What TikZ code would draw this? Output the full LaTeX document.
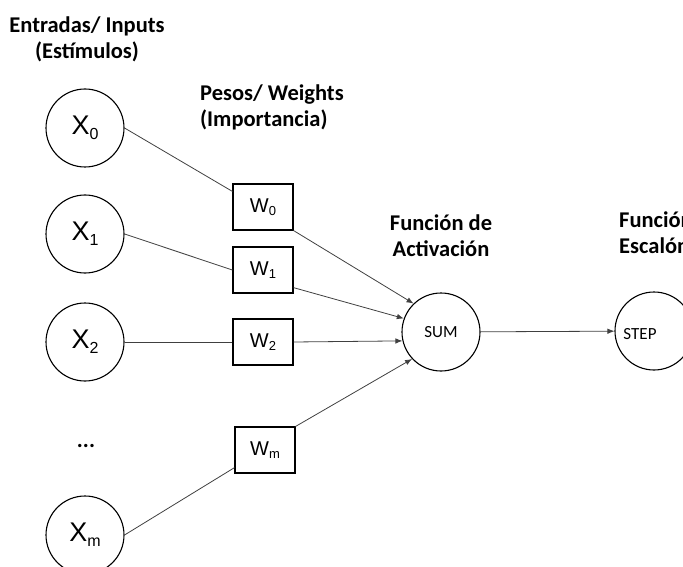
\documentclass[tikz,border=0pt]{standalone}
\usepackage{fontspec}
\usepackage{tikz}
\usetikzlibrary{arrows.meta}

\newfontfamily\calibfont{Carlito}
\newfontfamily\arialfont{Liberation Sans}

\newcommand{\invar}[1]{X\raisebox{-5pt}{\fontsize{16}{16}\selectfont #1}}
\newcommand{\weight}[1]{W\raisebox{-3pt}{\fontsize{13}{13}\selectfont #1}}

\begin{document}
\begin{tikzpicture}[x=1pt, y=-1pt, >={Latex[length=7pt,width=5.5pt]},
    neuron/.style={circle, draw, line width=1.1pt, minimum size=78pt, inner sep=0pt},
    wbox/.style={rectangle, draw, line width=1.1pt, minimum width=60pt, minimum height=46pt,
                 inner sep=0pt, font={\arialfont\fontsize{20}{20}\selectfont}},
    link/.style={draw=black!75, line width=0.8pt},
    title/.style={inner sep=0pt, font={\calibfont\bfseries\fontsize{22.5}{26}\selectfont}}]
                    \useasboundingbox (0,0) rectangle (683,567);
                    \clip (0,0) rectangle (683,567);

                    % titulos
                    \node[title, align=center, anchor=base] (inputs) at (87,59) {Entradas/ Inputs\\(Estímulos)};
                    \node[title, align=left, anchor=base west] (weights) at (200,127) {Pesos/ Weights\\(Importancia)};
                    \node[title, align=center, anchor=base] (activ) at (441,256) {Función de\\Activación};
                    \node[title, align=left, anchor=base west] (escal) at (619,253) {Función\\Escalón};

                    % entradas
                    \node[neuron, font={\arialfont\fontsize{27}{27}\selectfont}] (x0) at (85,128) {\invar{0}};
                    \node[neuron, font={\arialfont\fontsize{27}{27}\selectfont}] (x1) at (85,234) {\invar{1}};
                    \node[neuron, font={\arialfont\fontsize{27}{27}\selectfont}] (x2) at (85,342) {\invar{2}};
                    \node[title] (dots) at (86,446) {...};
                    \node[neuron, font={\arialfont\fontsize{27}{27}\selectfont}] (xm) at (85,535) {\invar{m}};

                    % pesos
                    \node[wbox] (w0) at (263,207) {\weight{0}};
                    \node[wbox] (w1) at (263,270) {\weight{1}};
                    \node[wbox] (w2) at (263,342) {\weight{2}};
                    \node[wbox] (wm) at (265,450) {\weight{m}};

                    \node[neuron, font={\calibfont\fontsize{17}{17}\selectfont}] (sum) at (441,332) {\raisebox{-3pt}{SUM}};
                    \node[neuron, label={[xshift=-14pt, yshift=-3pt, font={\calibfont\fontsize{17}{17}\selectfont}]center:STEP}] (step) at (654,331) {};

                    \draw[link] (x0.east) -- (w0.153);
                    \draw[link] (x1.east) -- (w1.west);
                    \draw[link] (x2) -- (w2);
                    \draw[link] (xm.east) -- (wm.210);

                    \draw[link, ->] (w0.south east) -- (sum.134);
                    \draw[link, ->] (w1.-30) -- (sum.160);
                    \draw[link, ->] (w2.east) -- (sum.193);
                    \draw[link, ->] (wm.north east) -- (sum.223);
                    \draw[link, ->] (sum) -- (step);

            \end{tikzpicture}
\end{document}
